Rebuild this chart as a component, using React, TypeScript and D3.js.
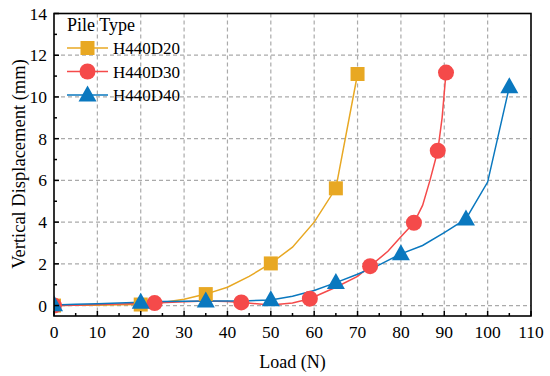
import React from "react";
import * as d3 from "d3";

const xTicks = [0, 10, 20, 30, 40, 50, 60, 70, 80, 90, 100, 110];
const yTicks = [0, 2, 4, 6, 8, 10, 12, 14];
const seriesNames = ["H440D20", "H440D30", "H440D40"];

// line points [load, displacement]
const d20Line: [number, number][] = [
  [0, 0], [5, 0.01], [10, 0.02], [15, 0.04], [20, 0.05], [25, 0.15], [30, 0.3], [35, 0.55],
  [40, 0.88], [45, 1.4], [50, 2.02], [55, 2.8], [60, 4.0], [65, 5.62], [70, 11.1],
];
const d20Marks: [number, number][] = [[0, 0], [20, 0.05], [35, 0.55], [50, 2.02], [65, 5.62], [70, 11.1]];

const d30Line: [number, number][] = [
  [0, 0], [5, 0.02], [10, 0.05], [15, 0.08], [20, 0.1], [23.2, 0.12], [30, 0.18], [35, 0.22],
  [40, 0.2], [43.2, 0.15], [50, 0.03], [55, 0.12], [59, 0.33], [65, 0.88], [70, 1.4],
  [72.9, 1.89], [77, 2.6], [80, 3.3], [83, 3.97], [85, 4.8], [86.7, 6.0], [88.5, 7.42],
  [89.5, 9.0], [90.4, 11.17],
];
const d30Marks: [number, number][] = [[0, 0], [23.2, 0.12], [43.2, 0.15], [59, 0.33], [72.9, 1.89], [83, 3.97], [88.5, 7.42], [90.4, 11.17]];

const d40Line: [number, number][] = [
  [0, 0.03], [5, 0.06], [10, 0.09], [15, 0.12], [20, 0.16], [25, 0.19], [30, 0.21], [35, 0.22],
  [40, 0.22], [45, 0.23], [50, 0.27], [55, 0.45], [60, 0.72], [65, 1.1], [70, 1.5], [75, 1.95],
  [80, 2.48], [85, 2.88], [90, 3.5], [95, 4.15], [100, 5.92], [105, 10.48],
];
const d40Marks: [number, number][] = [[0, 0.03], [20, 0.16], [35, 0.22], [50, 0.27], [65, 1.1], [80, 2.48], [95, 4.15], [105, 10.48]];

const colors = ["#E8A823", "#F54A4A", "#0A78BF"];
const shapes = ["square", "circle", "triangle"];

const W = 550, H = 376;
const L = 54, R = 531, T = 13.5, B = 316;
const FONT = "'Liberation Serif', 'Times New Roman', serif";

function Marker({ shape, x, y, color }: { shape: string; x: number; y: number; color: string }) {
  if (shape === "square") return <rect x={x - 7} y={y - 7} width={14} height={14} fill={color} />;
  if (shape === "circle") return <circle cx={x} cy={y} r={8} fill={color} />;
  const s = 18;
  const h = 16;
  return (
    <path
      d={`M${x},${y - h * 0.6} L${x + s / 2},${y + h * 0.4} L${x - s / 2},${y + h * 0.4} Z`}
      fill={color}
    />
  );
}

export default function App() {
  const x = d3.scaleLinear().domain([0, 110]).range([L, R]);
  const y = d3.scaleLinear().domain([-0.5, 14]).range([B, T]);
  const line = d3.line<[number, number]>().x((d) => x(d[0])).y((d) => y(d[1]));
  const lines = [d20Line, d30Line, d40Line];
  const marks = [d20Marks, d30Marks, d40Marks];
  const xMinor = d3.range(5, 110, 10);
  const yMinor = d3.range(1, 14, 2);

  return (
    <svg width={W} height={H} style={{ position: "absolute", left: 0, top: 0, background: "#fff" }}>
      <defs>
        <clipPath id="plotclip">
          <rect x={L} y={T} width={R - L} height={B - T} />
        </clipPath>
      </defs>
      <rect width={W} height={H} fill="#fff" />
      {/* grid */}
      {xTicks.slice(1, -1).map((t) => (
        <line key={"gx" + t} x1={x(t)} x2={x(t)} y1={T} y2={B} stroke="#aaa" strokeWidth={1.2} strokeDasharray="4,3" />
      ))}
      {yTicks.slice(0, -1).map((t) => (
        <line key={"gy" + t} x1={L} x2={R} y1={y(t)} y2={y(t)} stroke="#aaa" strokeWidth={1.2} strokeDasharray="4,3" />
      ))}
      <g clipPath="url(#plotclip)">
        {lines.map((ln, i) => (
          <path key={"l" + i} d={line(ln) || ""} fill="none" stroke={colors[i]} strokeWidth={1.5} />
        ))}
        {marks.map((ms, i) =>
          ms.map((m, j) => <Marker key={`m${i}-${j}`} shape={shapes[i]} x={x(m[0])} y={y(m[1])} color={colors[i]} />)
        )}
      </g>
      {/* frame */}
      <rect x={L} y={T} width={R - L} height={B - T} fill="none" stroke="#000" strokeWidth={1.6} />
      {/* ticks */}
      {xTicks.map((t) => (
        <g key={"xt" + t}>
          <line x1={x(t)} x2={x(t)} y1={B} y2={B - 5} stroke="#000" strokeWidth={1.5} />
          <text x={x(t)} y={B + 22} textAnchor="middle" fontFamily={FONT} fontSize={17.5}>{t}</text>
        </g>
      ))}
      {xMinor.map((t) => (
        <line key={"xm" + t} x1={x(t)} x2={x(t)} y1={B} y2={B - 3} stroke="#000" strokeWidth={1.5} />
      ))}
      {yTicks.map((t) => (
        <g key={"yt" + t}>
          <line x1={L} x2={L + 5} y1={y(t)} y2={y(t)} stroke="#000" strokeWidth={1.5} />
          <text x={L - 7} y={y(t) + 6} textAnchor="end" fontFamily={FONT} fontSize={17.5}>{t}</text>
        </g>
      ))}
      {yMinor.map((t) => (
        <line key={"ym" + t} x1={L} x2={L + 3} y1={y(t)} y2={y(t)} stroke="#000" strokeWidth={1.5} />
      ))}
      {/* axis titles */}
      <text x={(L + R) / 2} y={368} textAnchor="middle" fontFamily={FONT} fontSize={18}>Load (N)</text>
      <text
        transform={`translate(25,164) rotate(-90)`}
        textAnchor="middle"
        fontFamily={FONT}
        fontSize={18.5}
      >
        Vertical Displacement (mm)
      </text>
      {/* legend */}
      <text x={67} y={31} fontFamily={FONT} fontSize={18}>Pile Type</text>
      {seriesNames.map((n, i) => {
        const cy = 48 + i * 23.5;
        return (
          <g key={"lg" + n}>
            <line x1={67} x2={108} y1={cy} y2={cy} stroke={colors[i]} strokeWidth={1.5} />
            <Marker shape={shapes[i]} x={87.5} y={cy} color={colors[i]} />
            <text x={113} y={cy + 6} fontFamily={FONT} fontSize={17}>{n}</text>
          </g>
        );
      })}
    </svg>
  );
}
